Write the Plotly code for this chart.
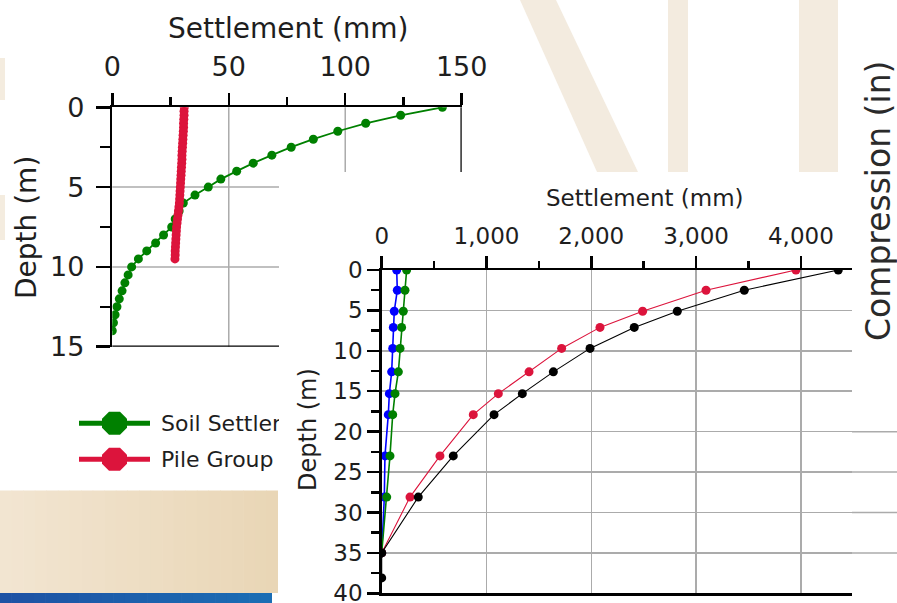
import plotly.graph_objects as go

W, H = 897, 603

# ---------------- Chart 1 (top-left) data ----------------
c1_x_ticks = [0, 50, 100, 150]
c1_y_ticks = [0, 5, 10, 15]
c1_soil_name = "Soil Settlement"
c1_soil_depth = [0.0, 0.5, 1.0, 1.5, 2.0, 2.5, 3.0, 3.5, 4.0, 4.5, 5.0, 5.5, 6.0, 6.5,
                 7.0, 7.5, 8.0, 8.5, 9.0, 9.5, 10.0, 10.5, 11.0, 11.5, 12.0, 12.5, 13.0,
                 13.5, 14.0]
c1_soil_settlement = [141.7, 123.8, 108.8, 96.8, 86.3, 76.8, 68.5, 60.5, 53.4, 46.6, 41.2,
                      35.5, 30.5, 28.7, 27.0, 25.5, 22.0, 18.6, 14.8, 11.2, 8.3, 6.8, 5.4,
                      4.2, 3.0, 2.0, 1.2, 0.5, 0.0]
c1_pile_name = "Pile Group"
c1_pile_depth = [0.0, 0.25, 0.5, 0.75, 1.0, 1.25, 1.5, 1.75, 2.0, 2.25, 2.5, 2.75, 3.0,
                 3.25, 3.5, 3.75, 4.0, 4.25, 4.5, 4.75, 5.0, 5.25, 5.5, 5.75, 6.0, 6.25,
                 6.5, 6.75, 7.0, 7.25, 7.5, 7.75, 8.0, 8.25, 8.5, 8.75, 9.0, 9.25, 9.5]
c1_pile_settlement = [30.9, 30.8, 30.8, 30.7, 30.6, 30.6, 30.5, 30.4, 30.3, 30.2, 30.1,
                      30.0, 29.9, 29.9, 29.8, 29.7, 29.6, 29.5, 29.4, 29.3, 29.2, 29.1,
                      29.0, 28.9, 28.8, 28.6, 28.4, 28.2, 28.0, 27.8, 27.6, 27.5, 27.4,
                      27.3, 27.2, 27.1, 27.0, 27.0, 26.9]

# ---------------- Chart 2 (inset) data ----------------
c2_x_ticks = [0, 1000, 2000, 3000, 4000]
c2_y_ticks = [0, 5, 10, 15, 20, 25, 30, 35, 40]
c2_depth = [0.0, 2.5, 5.1, 7.1, 9.7, 12.6, 15.3, 17.9, 23.0, 28.1, 35.0]
c2_blue = [143, 149, 120, 111, 105, 95, 73, 63, 31, 25, 0]
c2_green = [238, 222, 206, 190, 175, 159, 127, 105, 79, 48, 0]
c2_red = [3953, 3095, 2490, 2083, 1717, 1406, 1113, 874, 556, 270, 0]
c2_black_depth = [0.0, 2.5, 5.1, 7.1, 9.7, 12.6, 15.3, 17.9, 23.0, 28.1, 35.0, 38.1]
c2_black = [4357, 3460, 2821, 2410, 1988, 1638, 1342, 1072, 683, 349, 0, 0]


def px(x):
    return x / W


def py(y):
    return 1 - y / H


FONT = "DejaVu Sans"
TXT = "#1e1e1e"
GREEN = "#008000"
RED = "#dc143c"
GRID = "#ababab"

fig = go.Figure()

# chart 1 traces
fig.add_trace(go.Scatter(x=c1_soil_settlement, y=c1_soil_depth, name=c1_soil_name,
                         mode="lines+markers", line=dict(color=GREEN, width=1.8),
                         marker=dict(color=GREEN, size=9), xaxis="x", yaxis="y"))
fig.add_trace(go.Scatter(x=c1_pile_settlement, y=c1_pile_depth, name=c1_pile_name,
                         mode="lines+markers", line=dict(color=RED, width=1.8),
                         marker=dict(color=RED, size=9), xaxis="x", yaxis="y"))

# chart 2 traces
fig.add_trace(go.Scatter(x=c2_blue, y=c2_depth, name="Series A", mode="lines+markers",
                         line=dict(color="#0000ff", width=1.6),
                         marker=dict(color="#0000ff", size=9), xaxis="x2", yaxis="y2"))
fig.add_trace(go.Scatter(x=c2_green, y=c2_depth, name="Series B", mode="lines+markers",
                         line=dict(color=GREEN, width=1.6),
                         marker=dict(color=GREEN, size=9), xaxis="x2", yaxis="y2"))
fig.add_trace(go.Scatter(x=c2_red, y=c2_depth, name="Series C", mode="lines+markers",
                         line=dict(color=RED, width=1.1),
                         marker=dict(color=RED, size=9), xaxis="x2", yaxis="y2"))
fig.add_trace(go.Scatter(x=c2_black, y=c2_black_depth, name="Series D", mode="lines+markers",
                         line=dict(color="black", width=1.1),
                         marker=dict(color="black", size=9), xaxis="x2", yaxis="y2"))

axis_common = dict(showline=True, linecolor="black", linewidth=2.5, ticks="outside",
                   tickwidth=2.5, tickcolor="black", zeroline=False, automargin=False,
                   ticklabeloverflow="allow")

fig.update_layout(
    template="none",
    width=W, height=H, margin=dict(l=0, r=0, t=0, b=0, pad=0, autoexpand=False),
    paper_bgcolor="white", plot_bgcolor="rgba(0,0,0,0)", showlegend=False,
    font=dict(family=FONT, color=TXT),
    xaxis=dict(domain=[px(112.3), px(461.7)], range=[0, 150], side="top", anchor="y",
               tickmode="array", tickvals=c1_x_ticks, ticklen=12, showgrid=False,
               ticklabelstandoff=6,
               tickfont=dict(family=FONT, color=TXT, size=27),
               minor=dict(ticks="outside", ticklen=8, tickwidth=2.5, tickcolor="black",
                          dtick=25, tick0=0, showgrid=False), **axis_common),
    yaxis=dict(domain=[py(346.7), py(107.3)], range=[15, 0], anchor="x",
               tickmode="array", tickvals=c1_y_ticks, ticklen=14, showgrid=False,
               ticklabelstandoff=6,
               tickfont=dict(family=FONT, color=TXT, size=27),
               minor=dict(ticks="outside", ticklen=10, tickwidth=2.5, tickcolor="black",
                          dtick=2.5, tick0=0, showgrid=False), **axis_common),
    xaxis2=dict(domain=[px(381.7), px(852)], range=[0, 4488], side="top", anchor="y2",
                tickmode="array", tickvals=c2_x_ticks, tickformat=",", ticklen=12,
                ticklabelstandoff=2,
                mirror=True, showgrid=True, gridcolor=GRID, gridwidth=1.5,
                tickfont=dict(family=FONT, color=TXT, size=23),
                minor=dict(ticks="outside", ticklen=7, tickwidth=2.5, tickcolor="black",
                           dtick=500, tick0=0, showgrid=False), **axis_common),
    yaxis2=dict(domain=[py(593.3), py(270)], range=[40, 0], anchor="x2",
                tickmode="array", tickvals=c2_y_ticks, ticklen=12,
                showgrid=True, gridcolor=GRID, gridwidth=1.5,
                tickfont=dict(family=FONT, color=TXT, size=23),
                minor=dict(ticks="outside", ticklen=8, tickwidth=2.5, tickcolor="black",
                           dtick=2.5, tick0=0, showgrid=False), **axis_common),
)

shapes = []


def rect(x0, y0, x1, y1, color):
    shapes.append(dict(type="rect", xref="paper", yref="paper", x0=px(x0), x1=px(x1),
                       y0=py(y1), y1=py(y0), fillcolor=color, line=dict(width=0),
                       layer="below"))


def lerp_color(c0, c1, t):
    a = [int(c0[i:i + 2], 16) for i in (1, 3, 5)]
    b = [int(c1[i:i + 2], 16) for i in (1, 3, 5)]
    return "rgb(%d,%d,%d)" % tuple(round(a[k] + (b[k] - a[k]) * t) for k in range(3))


# beige gradient block bottom-left
n = 24
for i in range(n):
    x0 = 278 * i / n
    x1 = 278 * (i + 1) / n + 0.6
    rect(x0, 490.5, min(x1, 278), 593, lerp_color("#f2e5d1", "#e9d6b6", i / (n - 1)))
# blue band
for i in range(n):
    x0 = 272 * i / n
    x1 = 272 * (i + 1) / n + 0.6
    rect(x0, 593, min(x1, 272), 603, lerp_color("#1e52a4", "#1b6db4", i / (n - 1)))
# faint beige patches at left edge
rect(0, 58, 5, 100, "#f4ecdf")
rect(0, 195, 5, 240, "#f4ecdf")
# watermark stripes top right
STRIPE = "#f3ebdf"
shapes.append(dict(type="path", xref="paper", yref="paper",
                   path="M%f,%f L%f,%f L%f,%f L%f,%f Z" % (px(520), py(0), px(556), py(0),
                                                           px(638), py(172), px(597), py(172)),
                   fillcolor=STRIPE, line=dict(width=0), layer="below"))
rect(668, 0, 688, 172, STRIPE)
rect(799, 0, 838, 172, STRIPE)

# chart 1 clipped grid lines / frame (the inset panel hides the rest)
for v in (5, 10):
    shapes.append(dict(type="line", xref="paper", yref="y", x0=px(112.3), x1=px(279),
                       y0=v, y1=v, line=dict(color=GRID, width=1.5), layer="below"))
shapes.append(dict(type="line", xref="x", yref="paper", x0=50, x1=50, y0=py(107.3),
                   y1=py(346.7), line=dict(color=GRID, width=1.5), layer="below"))
shapes.append(dict(type="line", xref="x", yref="paper", x0=100, x1=100, y0=py(107.3),
                   y1=py(172), line=dict(color=GRID, width=1.5), layer="below"))
shapes.append(dict(type="line", xref="x", yref="paper", x0=150, x1=150, y0=py(107.3),
                   y1=py(172), line=dict(color="black", width=2.5)))
shapes.append(dict(type="line", xref="paper", yref="y", x0=px(112.3), x1=px(279),
                   y0=15, y1=15, line=dict(color="black", width=2.5)))

# chart 2 grid continuing to the right edge (lower part)
for v in (20, 25, 30, 35):
    shapes.append(dict(type="line", xref="paper", yref="y2", x0=px(852), x1=1,
                       y0=v, y1=v, line=dict(color=GRID, width=1.5), layer="below"))


# legend of chart 1 (symbols)
def octagon(cx, cy, w, h, c):
    pts = [(cx - w / 2 + c, cy - h / 2), (cx + w / 2 - c, cy - h / 2), (cx + w / 2, cy - h / 2 + c),
           (cx + w / 2, cy + h / 2 - c), (cx + w / 2 - c, cy + h / 2), (cx - w / 2 + c, cy + h / 2),
           (cx - w / 2, cy + h / 2 - c), (cx - w / 2, cy - h / 2 + c)]
    return "M" + " L".join("%f,%f" % (px(a), py(b)) for a, b in pts) + " Z"


for cy, col in ((423.3, GREEN), (459.3, RED)):
    shapes.append(dict(type="line", xref="paper", yref="paper", x0=px(79), x1=px(150),
                       y0=py(cy), y1=py(cy), line=dict(color=col, width=5)))
    shapes.append(dict(type="path", xref="paper", yref="paper", path=octagon(114.5, cy, 25, 23, 7),
                       fillcolor=col, line=dict(width=0)))

fig.update_layout(shapes=shapes)

ann = []


def text(x, y, s, size, angle=0, family=FONT, color=TXT, xanchor="center", **kw):
    d = dict(x=px(x), y=py(y), xref="paper", yref="paper", text=s, showarrow=False,
             textangle=angle, font=dict(family=family, size=size, color=color),
             xanchor=xanchor, yanchor="middle", borderpad=0)
    d.update(kw)
    ann.append(d)


text(288, 28, "Settlement (mm)", 28)
text(26, 228, "Depth (m)", 28, angle=-90)
text(645, 198, "Settlement (mm)", 23)
text(308, 430, "Depth (m)", 24, angle=-90)
text(879, 201, "Compression (in)", 33, angle=-90, color="#2a2a2a")
text(160, 423.3, c1_soil_name, 22, xanchor="left", width=118, align="left")
text(160, 459.3, c1_pile_name, 22, xanchor="left", width=122, align="left")

fig.update_layout(annotations=ann)

fig.write_html("out.html", config={"displayModeBar": False, "staticPlot": True},
               post_script="document.body.style.margin='0';document.body.style.overflow='hidden';")
